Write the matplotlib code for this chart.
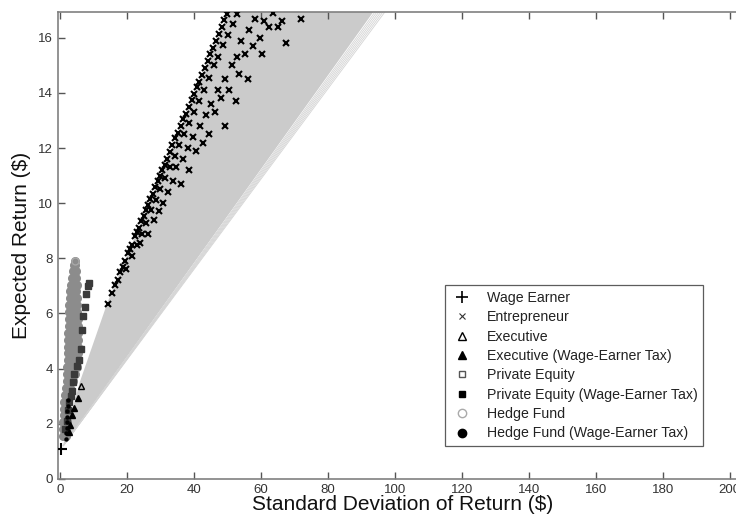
import matplotlib
matplotlib.use("Agg")
import matplotlib.pyplot as plt
from matplotlib.lines import Line2D

plt.rcParams["font.family"] = ["Liberation Sans", "DejaVu Sans"]

# Capital allocation fan (light gray wedge)
FAN_APEX = (1.0, 1.2)
fan_upper_x = [1.0, 5.9, 14.2, 51.0]
fan_upper_y = [1.25, 3.5, 6.4, 17.1]
fan_lower_end = (94.5, 17.1)
fan_feather_end_x = [95.0, 95.6, 96.2, 96.8, 97.4, 98.0]
FAN_TOP_Y = 17.1

# Entrepreneur
ent_x = [14.2, 15.5, 16.5, 17.2, 18.0, 18.8, 19.5, 20.3, 21.0, 21.5, 22.3, 23.0,
         23.5, 24.3, 25.0, 25.6, 26.3, 27.0, 27.8, 28.5, 29.2, 29.8, 30.6, 31.3,
         32.0, 32.8, 33.6, 34.4, 35.2, 36.0, 36.8, 37.6, 38.4, 39.3, 40.0, 40.9,
         41.6, 42.4, 43.3, 44.1, 44.9, 45.8, 46.6, 47.4, 48.3, 49.1, 49.8,
         19.8, 21.5, 23.0, 24.4, 25.7, 27.2, 28.6, 30.0, 31.5, 32.8, 34.3, 35.6,
         37.0, 38.5, 40.0, 41.5, 43.0, 44.5, 46.0, 47.3, 48.8, 50.3, 51.7, 53.0,
         24.0, 26.4, 28.1, 29.5, 30.8, 32.3, 33.8, 34.6, 36.1, 36.8, 38.5, 38.2,
         39.8, 40.6, 41.7, 42.8, 43.5, 44.6, 45.2, 46.3, 47.2, 48.0, 49.4, 49.2,
         50.5, 51.3, 52.6, 52.8, 53.6, 54.1, 55.2, 56.3, 56.4, 57.5, 58.2, 59.8,
         60.2, 61.0, 62.3, 63.5, 65.0, 66.2, 67.6, 72.0]
ent_y = [6.35, 6.75, 7.05, 7.2, 7.5, 7.7, 7.9, 8.2, 8.35, 8.5, 8.8, 8.95,
         9.1, 9.35, 9.55, 9.75, 9.95, 10.15, 10.35, 10.6, 10.8, 11.0, 11.2, 11.4,
         11.6, 11.85, 12.1, 12.35, 12.55, 12.8, 13.05, 13.25, 13.5, 13.75, 13.95, 14.2,
         14.4, 14.65, 14.9, 15.15, 15.4, 15.65, 15.9, 16.15, 16.4, 16.65, 16.85,
         7.6, 8.1, 8.5, 8.9, 9.3, 9.75, 10.1, 10.5, 10.9, 11.3, 11.7, 12.1,
         12.5, 12.9, 13.3, 13.7, 14.1, 14.55, 15.0, 15.3, 15.75, 16.1, 16.5, 16.85,
         8.55, 8.9, 9.4, 9.7, 10.0, 10.4, 10.8, 11.3, 10.7, 11.6, 11.2, 12.0,
         12.4, 11.9, 12.8, 12.2, 13.2, 12.5, 13.6, 13.3, 14.1, 13.8, 12.8, 14.5,
         14.1, 15.0, 13.7, 15.3, 14.7, 15.9, 15.4, 14.5, 16.3, 15.7, 16.7, 16.0,
         15.4, 16.6, 16.4, 16.9, 16.4, 16.6, 15.8, 16.7]

# Hedge fund (rows of points through the gray blob)
hf_rows = [
    (1.55, [0.8, 1.3, 1.8]),
    (1.8, [0.9, 1.4, 1.9]),
    (2.05, [1.0, 1.5, 2.0]),
    (2.3, [1.1, 1.6, 2.1]),
    (2.55, [1.2, 1.7, 2.2]),
    (2.8, [1.3, 1.8, 2.4]),
    (3.05, [1.6, 2.1, 2.7]),
    (3.3, [1.9, 2.5, 3.1]),
    (3.55, [2.1, 2.7, 3.3, 3.9]),
    (3.8, [2.2, 2.8, 3.4, 4.0, 4.6]),
    (4.05, [2.2, 2.8, 3.4, 4.0, 4.6, 5.2]),
    (4.3, [2.3, 2.9, 3.5, 4.1, 4.7, 5.3]),
    (4.55, [2.3, 2.9, 3.5, 4.1, 4.7, 5.3]),
    (4.8, [2.4, 3.0, 3.6, 4.2, 4.8, 5.4]),
    (5.05, [2.4, 3.0, 3.6, 4.2, 4.8, 5.4]),
    (5.3, [2.5, 3.1, 3.7, 4.3, 4.9, 5.4]),
    (5.55, [2.6, 3.2, 3.8, 4.4, 5.0, 5.4]),
    (5.8, [2.6, 3.2, 3.8, 4.4, 5.0, 5.4]),
    (6.05, [2.7, 3.3, 3.9, 4.5, 5.1]),
    (6.3, [2.8, 3.4, 4.0, 4.6, 5.2]),
    (6.55, [2.9, 3.5, 4.1, 4.7, 5.2]),
    (6.8, [3.1, 3.7, 4.3, 4.9]),
    (7.05, [3.3, 3.9, 4.5, 5.0]),
    (7.3, [3.5, 4.1, 4.7]),
    (7.55, [3.8, 4.3, 4.8]),
    (7.75, [4.1, 4.6]),
    (7.92, [4.5]),
]

# Hedge fund, wage-earner tax
hfw_x = [1.9, 1.95, 2.0, 2.05, 2.1, 2.2, 2.3, 2.4]
hfw_y = [1.45, 1.65, 1.85, 2.05, 2.25, 2.45, 2.65, 2.85]

# Private equity, wage-earner tax
pew_x = [1.5, 2.0, 2.4, 2.8, 3.2, 3.5, 3.9, 4.3, 5.0, 5.6, 6.2, 6.5, 6.8, 7.4, 7.7, 8.3, 8.6]
pew_y = [1.8, 2.1, 2.5, 2.8, 3.0, 3.2, 3.5, 3.8, 4.1, 4.3, 4.7, 5.4, 5.9, 6.24, 6.7, 7.0, 7.1]

# Executive
exe_x = [6.4]
exe_y = [3.35]
exw_x = [2.7, 3.1, 3.6, 4.2, 5.4]
exw_y = [1.7, 1.95, 2.3, 2.57, 2.93]

# Wage earner
wage_x = [0.3]
wage_y = [1.08]

fig = plt.figure(figsize=(7.36, 5.22), dpi=100)
ax = fig.add_axes([0.0792, 0.0828, 0.935, 0.8948])

# fan
poly_x = fan_upper_x + [fan_lower_end[0], FAN_APEX[0]]
poly_y = fan_upper_y + [fan_lower_end[1], FAN_APEX[1]]
ax.fill(poly_x, poly_y, color="#cbcbcb", lw=0, zorder=1)
for ex in fan_feather_end_x:
    ax.plot([FAN_APEX[0], ex], [FAN_APEX[1], FAN_TOP_Y], color="#d4d4d4", lw=0.6, zorder=1)

ax.plot(ent_x, ent_y, ls="none", marker="x", ms=4.5, mew=1.5, color="black", zorder=3)

hf_x = [x for y, xs in hf_rows for x in xs]
hf_y = [y for y, xs in hf_rows for x in xs]
ax.plot(hf_x, hf_y, ls="none", marker="o", ms=5.5, mfc="#8c8c8c", mec="#8c8c8c", zorder=3)
ax.plot([hf_x[-1]], [hf_y[-1]], ls="none", marker="o", ms=5, mfc="none", mec="#a8a8a8", zorder=4)

ax.plot(pew_x, pew_y, ls="none", marker="s", ms=5, color="#3a3a3a", zorder=4)
ax.plot(hfw_x, hfw_y, ls="none", marker="o", ms=2.2, color="black", zorder=5)
ax.plot(exw_x, exw_y, ls="none", marker="^", ms=5, color="black", zorder=5)
ax.plot(exe_x, exe_y, ls="none", marker="^", ms=5, mfc="#bbbbbb", mec="black", zorder=5)
ax.plot(wage_x, wage_y, ls="none", marker="+", ms=8, mew=1.5, color="black", zorder=5)

ax.set_xlim(-0.5, 205)
ax.set_ylim(0, 16.95)
ax.set_xticks(range(0, 201, 20))
ax.set_yticks(range(0, 17, 2))
ax.tick_params(direction="in", length=5, width=1, color="#555555", labelcolor="#333333",
               labelsize=9.5, top=True, right=True, pad=4)
for sp in ax.spines.values():
    sp.set_color("#808080")
    sp.set_linewidth(1.2)

ax.set_xlabel("Standard Deviation of Return ($)", fontsize=15, color="#111111", labelpad=-1)
ax.set_ylabel("Expected Return ($)", fontsize=15, color="#111111", labelpad=5)

handles = [
    Line2D([], [], ls="none", marker="+", ms=8, mew=1.2, color="black"),
    Line2D([], [], ls="none", marker="x", ms=4, mew=0.8, color="#333333"),
    Line2D([], [], ls="none", marker="^", ms=6, mfc="white", mec="black"),
    Line2D([], [], ls="none", marker="^", ms=6, color="black"),
    Line2D([], [], ls="none", marker="s", ms=5, mfc="white", mec="#555555"),
    Line2D([], [], ls="none", marker="s", ms=5, color="black"),
    Line2D([], [], ls="none", marker="o", ms=6, mfc="white", mec="#aaaaaa"),
    Line2D([], [], ls="none", marker="o", ms=6, color="black"),
]
labels = ["Wage Earner", "Entrepreneur", "Executive", "Executive (Wage-Earner Tax)",
          "Private Equity", "Private Equity (Wage-Earner Tax)", "Hedge Fund",
          "Hedge Fund (Wage-Earner Tax)"]
leg = ax.legend(handles, labels, loc="upper left", bbox_to_anchor=(0.5517, 0.4298),
                bbox_transform=ax.transAxes, fontsize=10.2, frameon=True, fancybox=False,
                edgecolor="#333333", handlelength=1.6, handletextpad=0.95,
                labelspacing=0.38, borderpad=0.4, labelcolor="#222222")
leg.get_frame().set_linewidth(0.9)

plt.savefig("out.png", dpi=100)
